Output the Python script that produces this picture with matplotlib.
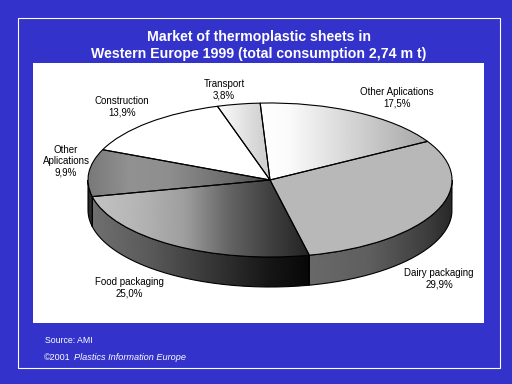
import numpy as np
import matplotlib
matplotlib.use("Agg")
import matplotlib.pyplot as plt
from matplotlib.patches import Rectangle, PathPatch
from matplotlib.path import Path

plt.rcParams['font.family'] = ['Liberation Sans', 'DejaVu Sans']

W, H = 512, 384
BLUE = '#3333CC'

title_lines = ["Market of thermoplastic sheets in",
               "Western Europe 1999 (total consumption 2,74 m t)"]
categories = ["Other Aplications", "Dairy packaging", "Food packaging",
              "Other\nAplications", "Construction", "Transport"]
shares = [17.5, 29.9, 25.0, 9.9, 13.9, 3.8]
share_labels = ["17,5%", "29,9%", "25,0%", "9,9%", "13,9%", "3,8%"]
label_xy = [(397, 97.5), (439, 279), (129, 288), (66, 161), (122, 106.5), (224, 90)]

# horizontal gray ramps (pixel x, gray level) per slice
top_ramps = [
    [(260, 255), (290, 250), (430, 165)],
    [(270, 184), (455, 184)],
    [(92, 195), (140, 180), (185, 158), (230, 100), (270, 65), (310, 35)],
    [(88, 120), (130, 145), (170, 142), (230, 108), (272, 70)],
    [(100, 255), (270, 255)],
    [(218, 252), (262, 210)],
]
side_ramps = [
    None,
    [(309, 105), (370, 95), (430, 60), (452, 40)],
    [(92, 112), (150, 90), (220, 50), (270, 22), (309, 8)],
    [(88, 25), (92, 60)],
    None, None,
]

CX, CY, RX, RY, DEPTH = 270, 180, 182, 77, 30
START = 93.1
LW = 0.8

fig = plt.figure(figsize=(W / 100, H / 100), dpi=100, facecolor=BLUE)
bg = fig.add_axes([0, 0, 1, 1])
bg.set_xlim(0, W); bg.set_ylim(H, 0); bg.axis('off')
bg.add_patch(Rectangle((18, 18), 482, 350, fc='none', ec='white', lw=0.8))
bg.add_patch(Rectangle((33, 63), 451, 260, fc='white', ec='none'))

ax = fig.add_axes([0, 0, 1, 1], facecolor='none')
wedges, _ = ax.pie(shares, startangle=START, counterclock=False, radius=1,
                   wedgeprops=dict(fc='none', ec='black', lw=LW, zorder=5))
ax.set_aspect('auto')
xlim = ((0 - CX) / RX, (W - CX) / RX)
ylim = ((CY - H) / RY, CY / RY)
ax.set_xlim(xlim); ax.set_ylim(ylim); ax.axis('off')
d = DEPTH / RY


def ramp_image(ramp):
    xs = np.arange(W) + 0.5
    g = np.interp(xs, [p[0] for p in ramp], [p[1] for p in ramp]) / 255
    return g[None, :]


def paint(ramp, clip_path, z):
    im = ax.imshow(ramp_image(ramp), extent=(*xlim, *ylim), cmap='gray', vmin=0, vmax=1,
                   aspect='auto', interpolation='bilinear', zorder=z)
    im.set_clip_path(clip_path, transform=ax.transData)


# side wall, built from the slice angles
edges = START - np.cumsum([0] + shares) * 3.6
for i, ramp in enumerate(side_ramps):
    if ramp is None:
        continue
    a0, a1 = edges[i + 1], edges[i]
    a0m, a1m = (a0 + 720) % 360, (a1 + 720) % 360
    if a1m < a0m:
        a1m += 360
    lo, hi = max(a0m, 180), min(a1m, 360)
    t = np.radians(np.linspace(lo, hi, 80))
    x, y = np.cos(t), np.sin(t)
    verts = np.r_[np.c_[x, y], np.c_[x[::-1], y[::-1] - d], [[x[0], y[0]]]]
    p = Path(verts, closed=False)
    paint(ramp, p, 2)
    ax.add_patch(PathPatch(p, fc='none', ec='black', lw=LW, zorder=3))

# top faces
for w, ramp in zip(wedges, top_ramps):
    paint(ramp, w.get_transform().transform_path(w.get_path()).transformed(ax.transData.inverted()), 4)
    w.set_zorder(5)

ax.set_xlim(xlim); ax.set_ylim(ylim)

for c, s, (x, y) in zip(categories, share_labels, label_xy):
    bg.text(x, y, f"{c}\n{s}", ha='center', va='center', fontsize=7, color='black',
            linespacing=1.15, zorder=10)

for line, y in zip(title_lines, (35.5, 52.5)):
    bg.text(259, y, line, ha='center', va='center_baseline', fontsize=10.2, fontweight='bold', color='white')

bg.text(45, 340.5, "Source: AMI", ha='left', va='center', fontsize=6.3, color='white')
bg.text(44, 357.5, "©2001", ha='left', va='center', fontsize=6.5, color='white')
bg.text(74, 357.5, "Plastics Information Europe", ha='left', va='center', fontsize=6.6,
        style='italic', color='white')

fig.savefig('out.png', dpi=100, facecolor=BLUE)
